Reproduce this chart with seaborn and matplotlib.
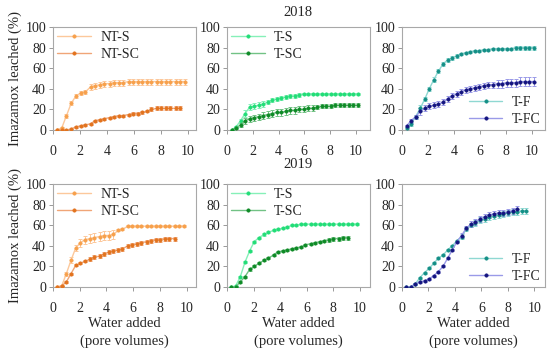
import matplotlib
matplotlib.use("Agg")
import matplotlib.pyplot as plt
import seaborn as sns

# x positions (pore volumes)
x_nt = [0.3, 0.65, 1.0, 1.35, 1.7, 2.05, 2.4, 2.8, 3.1, 3.5, 3.8, 4.2, 4.5, 4.9,
        5.2, 5.6, 5.9, 6.3, 6.6, 7.0, 7.3, 7.7, 8.0, 8.4, 8.7, 9.1, 9.4, 9.8]
x_t18 = [0.35, 0.7, 1.05, 1.4, 1.75, 2.1, 2.45, 2.8, 3.15, 3.5, 3.85, 4.2, 4.55, 4.9,
         5.25, 5.6, 5.95, 6.3, 6.65, 7.0, 7.35, 7.7, 8.05, 8.4, 8.75, 9.1, 9.45, 9.8, 10.15]
x_f19 = [0.3, 0.65, 1.0, 1.35, 1.7, 2.05, 2.4, 2.75, 3.1, 3.45, 3.8, 4.15, 4.5, 4.85,
         5.2, 5.55, 5.9, 6.25, 6.6, 6.95, 7.3, 7.65, 8.0, 8.35, 8.7, 9.05, 9.4]

# 2018
nts_18 = [0, 2, 14, 26, 33, 36, 37, 42, 43, 44, 45, 45, 46, 46, 46, 47, 47, 47, 47, 47,
          47, 47, 47, 47, 47, 47, 47, 47]
nts_18_err = [0, 1, 2, 2, 2, 2, 2, 3, 3, 3, 3, 3, 3, 3, 3, 3, 3, 3, 3, 3, 3, 3, 3, 3, 3, 3, 3, 3]
ntsc_18 = [0, 0, 0, 1, 3, 4, 5, 6, 9, 10, 11, 12, 13, 14, 14, 15, 16, 16, 17, 18, 20, 21,
           21, 21, 21, 21, 21]
ntsc_18_err = [0, 0, 0, 0, 1, 1, 1, 1, 1, 1, 1, 1, 1, 1, 1, 1, 1, 1, 1, 1, 2, 2, 2, 2, 2, 2, 2]
ts_18 = [0, 3, 9, 16, 22, 23, 24, 25, 27, 29, 30, 31, 32, 33, 33, 34, 35, 35, 35, 35, 35,
         35, 35, 35, 35, 35, 35, 35, 35]
ts_18_err = [0, 1, 2, 3, 3, 3, 3, 3, 2, 2, 2, 2, 2, 2, 2, 2, 1, 1, 1, 1, 1, 1, 1, 1, 1, 1, 1, 1, 1]
tsc_18 = [0, 2, 5, 9, 11, 12, 13, 14, 15, 16, 17, 17, 18, 19, 19, 20, 20, 21, 21, 22, 23,
          23, 23, 24, 24, 24, 24, 24, 24]
tsc_18_err = [0, 1, 2, 3, 3, 3, 3, 3, 3, 3, 3, 3, 3, 3, 3, 3, 3, 3, 3, 2, 2, 2, 2, 2, 2, 2, 2, 2, 2]
tf_18 = [2, 6, 13, 21, 30, 40, 49, 57, 64, 68, 70, 72, 74, 75, 76, 77, 77, 78, 78, 79, 79,
         79, 79, 79, 80, 80, 80, 80, 80]
tf_18_err = [1, 2, 2, 3, 2, 2, 2, 2, 2, 2, 2, 2, 1, 1, 1, 1, 1, 1, 1, 1, 1, 1, 1, 1, 2, 2, 2, 2, 2]
tfc_18 = [4, 9, 13, 18, 21, 23, 24, 25, 27, 30, 33, 35, 37, 39, 40, 41, 42, 43, 44, 44, 45,
          45, 46, 46, 46, 47, 47, 47, 47]
tfc_18_err = [1, 2, 2, 3, 3, 3, 3, 3, 3, 3, 3, 3, 3, 3, 3, 3, 3, 3, 3, 3, 4, 4, 4, 4, 4, 4, 4, 4, 4]

# 2019
nts_19 = [0, 1, 13, 26, 38, 43, 46, 47, 48, 49, 50, 50, 51, 55, 56, 59, 59, 59, 59, 59,
          59, 59, 59, 59, 59, 59, 59, 59]
nts_19_err = [0, 1, 2, 3, 3, 4, 4, 4, 4, 4, 4, 4, 4, 1, 1, 1, 1, 1, 1, 1, 1, 1, 1, 1, 1, 1, 1, 1]
ntsc_19 = [0, 1, 5, 13, 21, 23, 25, 27, 29, 30, 32, 34, 35, 36, 37, 40, 41, 42, 43, 44,
           45, 46, 46, 47, 47, 47]
ntsc_19_err = [0, 0, 1, 1, 1, 1, 1, 2, 2, 2, 2, 2, 2, 2, 2, 2, 2, 2, 2, 2, 2, 2, 2, 2, 2, 2]
ts_19 = [0, 1, 10, 24, 35, 44, 48, 51, 53, 55, 56, 57, 58, 60, 60, 61, 61, 61, 61, 61,
         61, 61, 61, 61, 61, 61, 61, 61]
ts_19_err = [0, 0, 1, 1, 1, 1, 1, 1, 1, 1, 1, 1, 1, 1, 1, 1, 1, 1, 1, 1, 1, 1, 1, 1, 1, 1, 1, 1]
tsc_19 = [0, 0, 5, 10, 17, 20, 23, 26, 28, 31, 34, 35, 36, 37, 38, 39, 41, 42, 43, 44,
          45, 46, 47, 47, 48, 48]
tsc_19_err = [0, 0, 1, 1, 1, 1, 1, 1, 1, 1, 1, 1, 1, 1, 1, 1, 1, 1, 1, 1, 1, 2, 2, 2, 2, 2]
tf_19 = [0, 0, 3, 9, 14, 18, 23, 28, 31, 36, 40, 45, 49, 56, 60, 62, 65, 66, 68, 69, 70,
         71, 72, 73, 73, 74, 74]
tf_19_err = [0, 0, 1, 1, 1, 1, 1, 1, 1, 1, 1, 1, 2, 2, 2, 3, 3, 3, 3, 3, 3, 3, 3, 3, 3, 3, 3]
tfc_19 = [0, 0, 3, 5, 6, 8, 11, 15, 20, 28, 36, 44, 50, 57, 61, 63, 66, 68, 70, 71, 72,
          72, 73, 74, 76]
tfc_19_err = [0, 0, 1, 1, 1, 1, 1, 1, 1, 1, 1, 1, 2, 2, 3, 3, 3, 3, 3, 3, 3, 3, 3, 3, 3]

# (line colour, marker colour)
colors = {
    "NT-S": ("#fcc89b", "#f7a04b"),
    "NT-SC": ("#f0a577", "#e2731e"),
    "T-S": ("#86f0b8", "#22dd77"),
    "T-SC": ("#72c285", "#0e8a26"),
    "T-F": ("#8fd8d2", "#148f86"),
    "T-FC": ("#9a9ae8", "#14147f"),
}

sns.set_style("white")
plt.rcParams["font.family"] = ["Liberation Serif", "DejaVu Serif"]

fig = plt.figure(figsize=(5.5, 3.54), dpi=100)

lefts = [53 / 550, 227 / 550, 402 / 550]
bottoms = [1 - 130 / 354, 1 - 287 / 354]
w, h = 143 / 550, 103 / 354
xmax = [[10.6, 11.1, 11.0], [10.7, 10.75, 10.8]]

panels = [
    [[("NT-S", x_nt, nts_18, nts_18_err), ("NT-SC", x_nt, ntsc_18, ntsc_18_err)],
     [("T-S", x_t18, ts_18, ts_18_err), ("T-SC", x_t18, tsc_18, tsc_18_err)],
     [("T-F", x_t18, tf_18, tf_18_err), ("T-FC", x_t18, tfc_18, tfc_18_err)]],
    [[("NT-S", x_nt, nts_19, nts_19_err), ("NT-SC", x_nt, ntsc_19, ntsc_19_err)],
     [("T-S", x_nt, ts_19, ts_19_err), ("T-SC", x_nt, tsc_19, tsc_19_err)],
     [("T-F", x_f19, tf_19, tf_19_err), ("T-FC", x_f19, tfc_19, tfc_19_err)]],
]

for r in range(2):
    for c in range(3):
        ax = fig.add_axes([lefts[c], bottoms[r], w, h])
        for name, xs, ys, es in panels[r][c]:
            xs = xs[:len(ys)]
            line_c, mk_c = colors[name]
            ax.errorbar(xs, ys, yerr=es, fmt="none", ecolor=line_c,
                        elinewidth=0.7, capsize=1.5, capthick=0.7, zorder=2)
            sns.lineplot(x=xs, y=ys, ax=ax, color=line_c, linewidth=1.0,
                         marker="o", markersize=2.4, markerfacecolor=mk_c,
                         markeredgecolor=mk_c, markeredgewidth=0.5,
                         label=name, zorder=3)
        ax.set_xlim(0, xmax[r][c])
        ax.set_ylim(0, 100)
        ax.set_xticks([0, 2, 4, 6, 8, 10])
        ax.set_yticks([0, 20, 40, 60, 80, 100])
        ax.tick_params(axis="both", labelsize=10, length=3, width=0.7,
                       color="#999999", direction="out", pad=2,
                       bottom=True, left=True)
        ax.tick_params(axis="x", pad=7.5)
        for s in ax.spines.values():
            s.set_color("#a8a8a8")
            s.set_linewidth(0.8)
        loc = "lower right" if c == 2 else "upper left"
        ax.legend(loc=loc, frameon=False, fontsize=10,
                  handlelength=2.4, handletextpad=0.7, borderaxespad=0.1,
                  borderpad=0.2, labelspacing=0.3)
        if c == 0:
            ax.set_ylabel("Imazamox leached (%)", fontsize=10.5)
            ax.yaxis.set_label_coords(-0.22, 0.5)
        else:
            ax.set_ylabel("")
        if r == 1:
            ax.set_xlabel("Water added\n(pore volumes)", fontsize=10.5,
                          linespacing=1.45, labelpad=2)
        else:
            ax.set_xlabel("")

fig.text(298 / 550, 1 - 12 / 354, "2018", ha="center", va="center", fontsize=10.5)
fig.text(298 / 550, 1 - 165 / 354, "2019", ha="center", va="center", fontsize=10.5)

fig.savefig("out.png", dpi=100)
